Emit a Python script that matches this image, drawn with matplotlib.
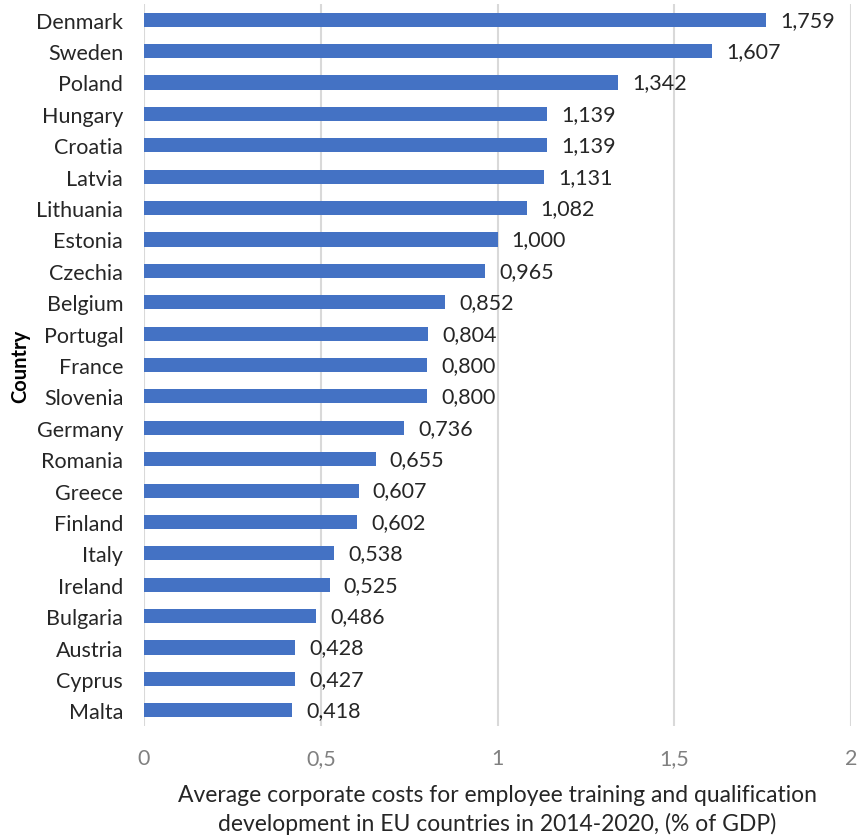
import matplotlib.pyplot as plt

plt.rcParams['font.family'] = ['Lato', 'DejaVu Sans']

# data (top to bottom as in the chart)
countries = ['Denmark', 'Sweden', 'Poland', 'Hungary', 'Croatia', 'Latvia', 'Lithuania',
             'Estonia', 'Czechia', 'Belgium', 'Portugal', 'France', 'Slovenia', 'Germany',
             'Romania', 'Greece', 'Finland', 'Italy', 'Ireland', 'Bulgaria', 'Austria',
             'Cyprus', 'Malta']
values = [1.759, 1.607, 1.342, 1.139, 1.139, 1.131, 1.082, 1.000, 0.965, 0.852, 0.804,
          0.800, 0.800, 0.736, 0.655, 0.607, 0.602, 0.538, 0.525, 0.486, 0.428, 0.427, 0.418]
xticks = [0, 0.5, 1, 1.5, 2]
xtick_labels = ['0', '0,5', '1', '1,5', '2']

fig = plt.figure(figsize=(8.64, 8.37), dpi=100)
ax = fig.add_axes([0.1667, 0.1314, 0.8183, 0.8626])

ypos = list(range(len(countries)))[::-1]
ax.barh(ypos, values, height=0.45, color='#4472C4', zorder=3)

for y, v in zip(ypos, values):
    ax.text(v + 0.04, y, f'{v:.3f}'.replace('.', ','), va='center', ha='left',
            fontsize=15.5, color='#262626')

ax.set_ylim(-0.5, len(countries) - 0.5)
ax.set_xlim(0, 2)
ax.set_yticks(ypos)
ax.set_yticklabels(countries, fontsize=15.5, color='#262626')
ax.set_xticks(xticks)
ax.set_xticklabels(xtick_labels, fontsize=15.5, color='#808080')
ax.tick_params(axis='y', length=0, pad=15)
ax.tick_params(axis='x', length=0, pad=16)
ax.grid(axis='x', color='#D9D9D9', linewidth=1.5, zorder=0)
for s in ax.spines.values():
    s.set_visible(False)

ax.set_ylabel('Country', fontsize=14.5, fontweight='bold', color='#000000', labelpad=4)
ax.set_xlabel('Average corporate costs for employee training and qualification\n'
              'development in EU countries in 2014-2020, (% of GDP)',
              fontsize=16.5, color='#262626', labelpad=11, linespacing=1.4)

fig.savefig('out.png', dpi=100)
